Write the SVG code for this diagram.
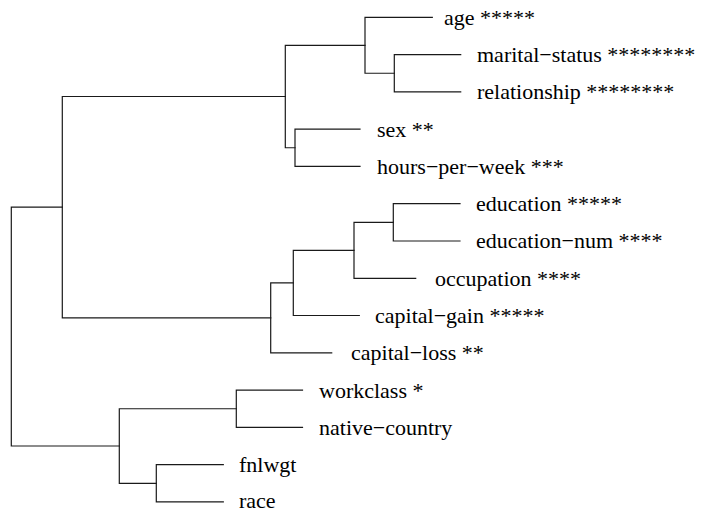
<svg xmlns="http://www.w3.org/2000/svg" width="709" height="512" viewBox="0 0 709 512">
<rect width="709" height="512" fill="#fff"/>
<g id="connectors" fill="none" stroke="#1a1a1a" stroke-width="1.2" stroke-linecap="square">
<path d="M460.7,54.6 H394.3 V91.9 H460.7"/>
<path d="M432.3,17.3 H365 V73.25 H394.3"/>
<path d="M360,129.1 H295 V166.4 H360"/>
<path d="M365,45.3 H285.3 V147.75 H295"/>
<path d="M460,203.7 H393.3 V241 H460"/>
<path d="M393.3,222.35 H354 V278.3 H415.7"/>
<path d="M354,250.3 H293.3 V315.5 H359.3"/>
<path d="M293.3,282.9 H270.7 V352.8 H331.7"/>
<path d="M285.3,96.5 H62.3 V317.85 H270.7"/>
<path d="M302.5,390.1 H236.3 V427.4 H302.5"/>
<path d="M223.3,464.7 H156.3 V501.9 H223.3"/>
<path d="M236.3,408.75 H119.3 V483.3 H156.3"/>
<path d="M62.3,207.2 H11.3 V446 H119.3"/>
</g>
<g id="leaf-age"><text x="444" y="25" font-family="Liberation Serif" font-size="22">age *****</text></g>
<g id="leaf-marital-status"><text x="477" y="62" font-family="Liberation Serif" font-size="22">marital−status ********</text></g>
<g id="leaf-relationship"><text x="477" y="99" font-family="Liberation Serif" font-size="22">relationship ********</text></g>
<g id="leaf-sex"><text x="377" y="137" font-family="Liberation Serif" font-size="22">sex **</text></g>
<g id="leaf-hours-per-week"><text x="377" y="174" font-family="Liberation Serif" font-size="22">hours−per−week ***</text></g>
<g id="leaf-education"><text x="476" y="211" font-family="Liberation Serif" font-size="22">education *****</text></g>
<g id="leaf-education-num"><text x="476" y="248" font-family="Liberation Serif" font-size="22">education−num ****</text></g>
<g id="leaf-occupation"><text x="435" y="286" font-family="Liberation Serif" font-size="22">occupation ****</text></g>
<g id="leaf-capital-gain"><text x="375" y="323" font-family="Liberation Serif" font-size="22">capital−gain *****</text></g>
<g id="leaf-capital-loss"><text x="351" y="360" font-family="Liberation Serif" font-size="22">capital−loss **</text></g>
<g id="leaf-workclass"><text x="319" y="398" font-family="Liberation Serif" font-size="22">workclass *</text></g>
<g id="leaf-native-country"><text x="319" y="435" font-family="Liberation Serif" font-size="22">native−country</text></g>
<g id="leaf-fnlwgt"><text x="239" y="472" font-family="Liberation Serif" font-size="22">fnlwgt</text></g>
<g id="leaf-race"><text x="239" y="508" font-family="Liberation Serif" font-size="22">race</text></g>
</svg>
